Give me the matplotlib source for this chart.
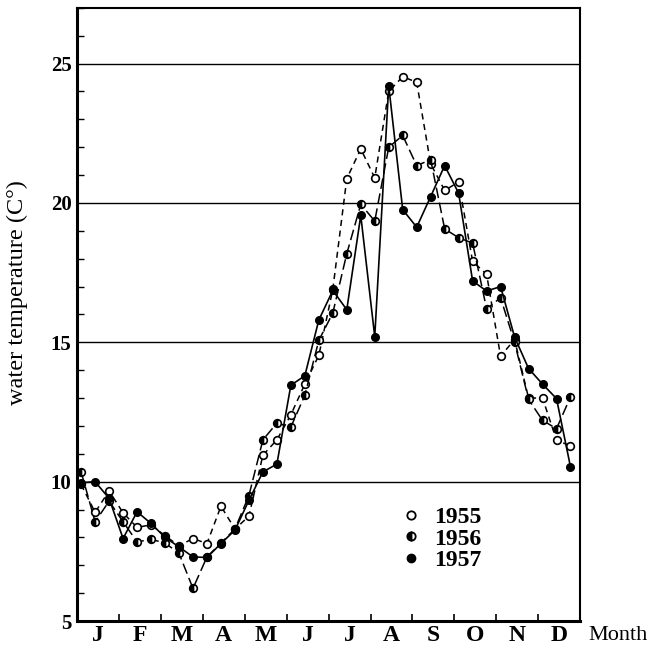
import matplotlib.pyplot as plt
import numpy as np

# dekad (10-day) positions, in months from 1 January
dekads = np.arange(36) / 3 + 0.1

temp_1955 = [9.9, 8.9, 9.67, 8.88, 8.36, 8.45, 8.06, 7.7, 7.96, 7.78, 9.12, 8.3,
             8.76, 10.95, 11.5, 12.4, 13.5, 14.53, 16.9, 20.87, 21.94, 20.9, 24.0, 24.53,
             24.33, 21.4, 20.45, 20.75, 17.9, 17.44, 14.5, 15.1, 13.0, 13.0, 11.49, 11.28]
temp_1956 = [10.35, 8.56, 9.3, 8.56, 7.84, 7.93, 7.8, 7.43, 6.17, 7.3, 7.8, 8.3,
             9.5, 11.5, 12.1, 11.96, 13.1, 15.07, 16.05, 18.18, 19.95, 19.35, 22.0, 22.42,
             21.34, 21.55, 19.07, 18.75, 18.56, 16.2, 16.6, 15.0, 12.95, 12.2, 11.9, 13.04]
temp_1957 = [9.96, 10.0, 9.4, 7.96, 8.92, 8.5, 8.0, 7.66, 7.3, 7.28, 7.78, 8.26,
             9.33, 10.35, 10.63, 13.46, 13.8, 15.8, 16.86, 16.17, 19.55, 15.2, 24.2, 19.76,
             19.13, 20.23, 21.34, 20.35, 17.2, 16.84, 17.0, 15.19, 14.06, 13.5, 12.98, 10.53]

months = ['J', 'F', 'M', 'A', 'M', 'J', 'J', 'A', 'S', 'O', 'N', 'D']
years = ['1955', '1956', '1957']

plt.rcParams['font.family'] = ['Liberation Serif', 'DejaVu Serif']

fig = plt.figure(figsize=(6.52, 6.52), dpi=100)
ax = fig.add_axes([0.118, 0.0475, 0.772, 0.9405])

for y in [10, 15, 20, 25]:
    ax.axhline(y, color='black', lw=1.0, zorder=1)

ax.plot(dekads, temp_1955, color='black', lw=1.1, ls=(0, (4, 3)),
        marker='o', ms=5.5, mfc='white', mec='black', mew=1.2, zorder=3)
ax.plot(dekads, temp_1956, color='black', lw=1.1, ls=(0, (7, 3)),
        marker='o', ms=5.5, fillstyle='left', mfc='black', mfcalt='white', mec='black', mew=1.2, zorder=3)
ax.plot(dekads, temp_1957, color='black', lw=1.2, ls='-',
        marker='o', ms=5.5, mfc='black', mec='black', zorder=3)

ax.set_xlim(0, 12)
ax.set_ylim(5, 27)

ax.set_xticks(np.arange(1, 12), minor=True)
ax.set_xticks(np.arange(12) + 0.5)
ax.set_xticklabels(months, fontsize=17, fontweight='bold')
ax.tick_params(axis='x', which='major', length=0, pad=3)
ax.tick_params(axis='x', which='minor', direction='in', length=5, width=1.2)

ax.set_yticks([5, 10, 15, 20, 25])
ax.set_yticklabels(['5', '10', '15', '20', '25'], fontsize=15, fontweight='bold')
ax.set_yticks(np.arange(5, 28), minor=True)
ax.tick_params(axis='y', which='major', length=0, pad=4)
ax.tick_params(axis='y', which='minor', direction='in', length=5, width=1.0)

ax.spines['left'].set_linewidth(2.2)
ax.spines['bottom'].set_linewidth(2.2)
ax.spines['right'].set_linewidth(1.5)
ax.spines['top'].set_linewidth(1.5)

ax.set_ylabel('water temperature (C°)', fontsize=17.5)
ax.yaxis.set_label_coords(-0.097, 0.535)
ax.text(1.016, -0.024, 'Month', transform=ax.transAxes, fontsize=16,
        ha='left', va='center')

# legend: markers only
ax.plot([], [], ls='none', marker='o', ms=6, mfc='white', mec='black', mew=1.3, label=years[0])
ax.plot([], [], ls='none', marker='o', ms=6, fillstyle='left', mfc='black', mfcalt='white',
        mec='black', mew=1.3, label=years[1])
ax.plot([], [], ls='none', marker='o', ms=6, mfc='black', mec='black', label=years[2])
handles = ax.get_lines()[-3:]
ax.legend(handles=handles, loc='lower left', bbox_to_anchor=(0.622, 0.062), frameon=False,
          prop={'size': 17, 'weight': 'bold'}, handlelength=0.8, handletextpad=0.55,
          labelspacing=0.0, borderpad=0)

fig.savefig('out.png', dpi=100)
